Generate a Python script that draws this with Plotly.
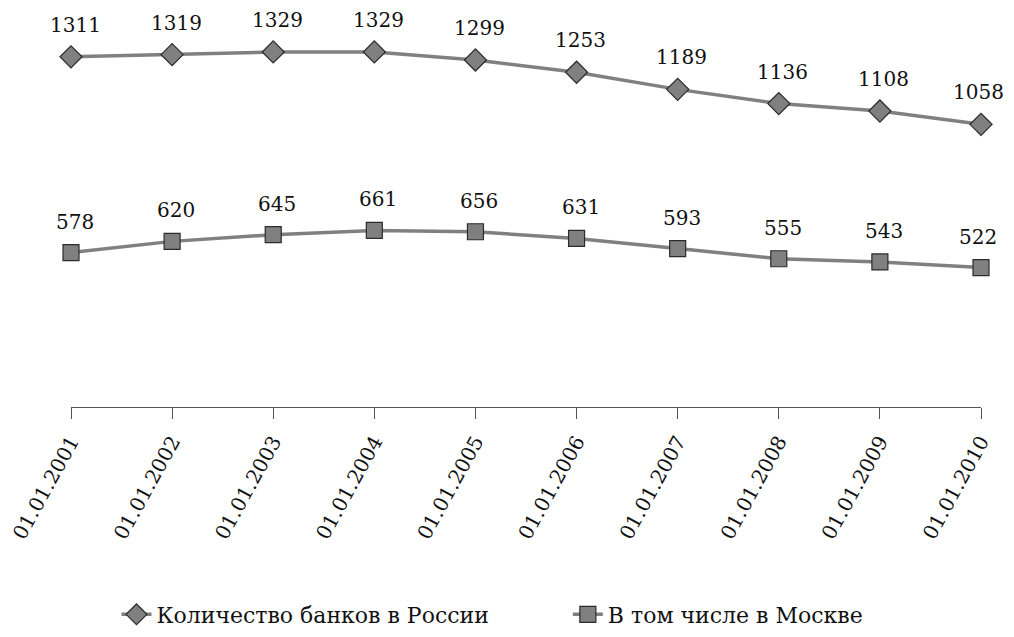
import plotly.graph_objects as go

dates = ["01.01.2001", "01.01.2002", "01.01.2003", "01.01.2004", "01.01.2005",
         "01.01.2006", "01.01.2007", "01.01.2008", "01.01.2009", "01.01.2010"]
russia = [1311, 1319, 1329, 1329, 1299, 1253, 1189, 1136, 1108, 1058]
moscow = [578, 620, 645, 661, 656, 631, 593, 555, 543, 522]

name_russia = "Количество банков в России"
name_moscow = "В том числе в Москве"

FONT = "DejaVu Serif"
LINE = "#808080"
EDGE = "#2b2b2b"
TXT = "#111111"

fig = go.Figure()
fig.add_trace(go.Scatter(
    x=dates, y=russia, name=name_russia, mode="lines+markers", cliponaxis=False,
    legend="legend",
    line=dict(color=LINE, width=3.5),
    marker=dict(symbol="diamond", size=17, color=LINE, line=dict(color=EDGE, width=1.2)),
))
fig.add_trace(go.Scatter(
    x=dates, y=moscow, name=name_moscow, mode="lines+markers", cliponaxis=False,
    legend="legend2",
    line=dict(color=LINE, width=3.5),
    marker=dict(symbol="square", size=16, color=LINE, line=dict(color=EDGE, width=1.2)),
))

annotations = []
for xs, ys, shift in ((dates, russia, 32), (dates, moscow, 31)):
    for i, (xv, yv) in enumerate(zip(xs, ys)):
        annotations.append(dict(x=xv, y=yv, text=str(yv), showarrow=False,
                                xshift=4 if i < len(xs) - 1 else -3, yshift=shift,
                                font=dict(family=FONT, size=20, color=TXT)))

legend_common = dict(orientation="h", xanchor="left", yanchor="middle", y=-0.555,
                     font=dict(family=FONT, size=22, color=TXT), itemwidth=30,
                     bgcolor="rgba(0,0,0,0)")

fig.update_layout(
    width=998, height=621,
    margin=dict(l=63, r=25, t=25, b=222, autoexpand=False),
    paper_bgcolor="white", plot_bgcolor="white",
    font=dict(family=FONT, size=20, color=TXT),
    showlegend=True,
    legend=dict(x=0.050, **legend_common),
    legend2=dict(x=0.546, **legend_common),
    annotations=annotations,
    xaxis=dict(type="category", range=[0, 9], automargin=False,
               showline=True, linecolor="#555555", linewidth=1,
               ticks="outside", ticklen=11, tickcolor="#555555", tickwidth=1,
               tickangle=-61, showgrid=False, zeroline=False, ticklabelstandoff=3,
               tickfont=dict(family=FONT, size=20, color=TXT)),
    yaxis=dict(range=[0, 1400], visible=False, showgrid=False, zeroline=False,
               automargin=False),
)

fig.write_html("out.html")
